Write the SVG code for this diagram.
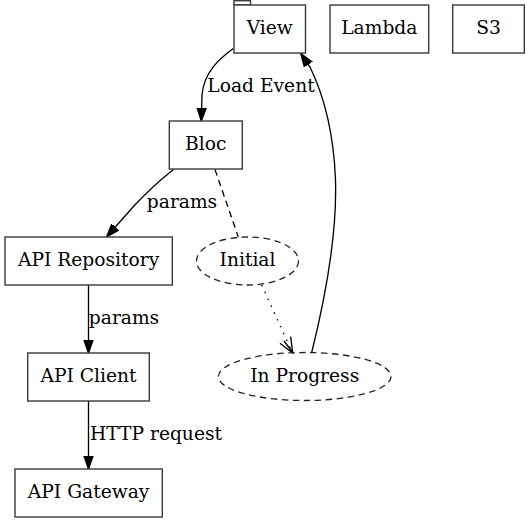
<svg xmlns="http://www.w3.org/2000/svg" width="530" height="523" viewBox="0 0 530 523">
<defs>
<style>
text{font-family:"DejaVu Serif","Liberation Serif",serif;font-size:18.67px;fill:#000;text-anchor:middle}
.box{fill:#fff;stroke:#3a3a3a;stroke-width:1.4}
.ell{fill:none;stroke:#222;stroke-width:1.3;stroke-dasharray:6.5,4.5}
.edge{fill:none;stroke:#000;stroke-width:1.33}
.dash{stroke-dasharray:6.5,4.5}
.dot{stroke-dasharray:1.5,6}
.lbl{text-anchor:middle}
</style>
<marker id="arr" markerUnits="userSpaceOnUse" markerWidth="16" markerHeight="12" viewBox="0 -6 16 12" refX="13.33" refY="0" orient="auto">
<path d="M0,-4.67 L13.33,0 L0,4.67 z" fill="#000" stroke="#000" stroke-width="1.33"/>
</marker>
</defs>
<rect width="530" height="523" fill="#fff"/>
<g id="connectors">
<path class="edge" d="M233.3,48.5 C219,59 204,72 202,95 L201.3,121" marker-end="url(#arr)"/>
<text x="261" y="92">Load Event</text>
<path class="edge" d="M173.5,169.5 C160,180 146,193 133,207 L106.5,237" marker-end="url(#arr)"/>
<text x="182" y="208">params</text>
<path class="edge dash" d="M215,169.5 L238.3,237"/>
<path class="edge dot" d="M261.7,285 L290.5,348.5"/>
<path d="M280,343.3 L292.7,353 L290.7,336.7 M284,341 L292,351.5" fill="none" stroke="#000" stroke-width="1.33"/>
<path class="edge" d="M311.7,352.5 C326,295 337,230 335.5,180 C334,140 326,100 310,67 L300.7,53.5" marker-end="url(#arr)"/>
<path class="edge" d="M88.5,285 L88.5,353" marker-end="url(#arr)"/>
<text x="124" y="324">params</text>
<path class="edge" d="M88.5,401 L88.5,469" marker-end="url(#arr)"/>
<text x="156" y="440">HTTP request</text>
</g>
<g id="view">
<rect class="box" x="234" y="0.7" width="16.5" height="4.3"/>
<rect class="box" x="234" y="5" width="71.5" height="48"/>
<text x="269.7" y="34">View</text>
</g>
<g id="lambda">
<rect class="box" x="330" y="5" width="98.7" height="48"/>
<text x="379.3" y="34">Lambda</text>
</g>
<g id="s3">
<rect class="box" x="452.7" y="5" width="71.6" height="48"/>
<text x="488.5" y="34">S3</text>
</g>
<g id="bloc">
<rect class="box" x="169.3" y="121" width="73" height="48"/>
<text x="205.8" y="150">Bloc</text>
</g>
<g id="api-repository">
<rect class="box" x="5" y="237" width="167.3" height="48"/>
<text x="88.6" y="266">API Repository</text>
</g>
<g id="initial">
<ellipse class="ell" cx="247.5" cy="261" rx="51" ry="24"/>
<text x="247.5" y="266">Initial</text>
</g>
<g id="api-client">
<rect class="box" x="27.7" y="353" width="121.6" height="48"/>
<text x="88.5" y="382">API Client</text>
</g>
<g id="in-progress">
<ellipse class="ell" cx="304.7" cy="376.5" rx="86.3" ry="24"/>
<text x="304.7" y="382">In Progress</text>
</g>
<g id="api-gateway">
<rect class="box" x="15" y="469" width="147.3" height="48"/>
<text x="88.6" y="498">API Gateway</text>
</g>
</svg>
